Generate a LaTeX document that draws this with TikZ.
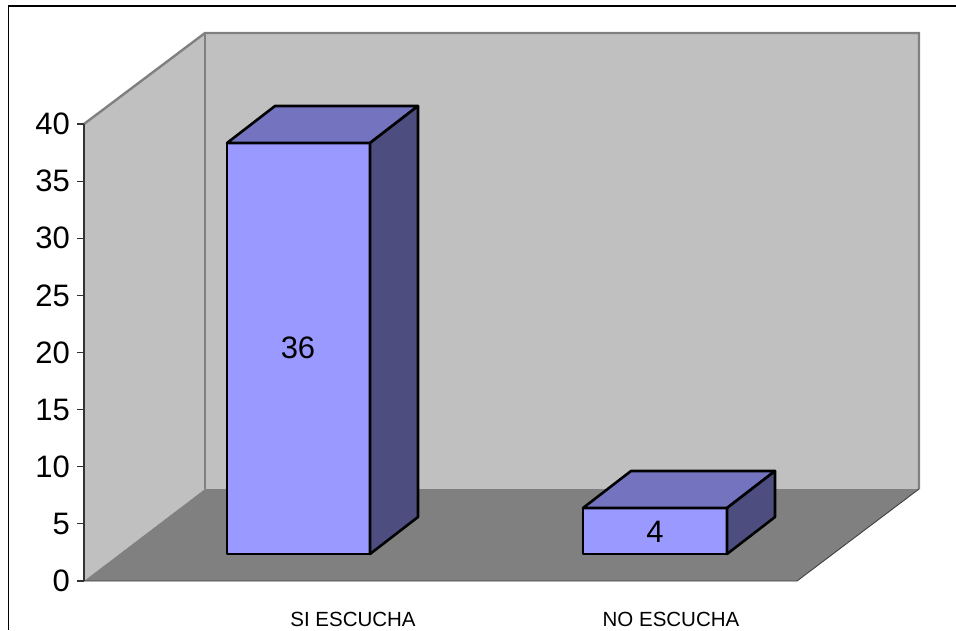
\documentclass[tikz,border=0pt]{standalone}
\usepackage{fontspec}
\setmainfont{Liberation Sans}
\definecolor{wallc}{RGB}{192,192,192}
\definecolor{floorc}{RGB}{128,128,128}
\definecolor{edgec}{RGB}{128,128,128}
\definecolor{barfront}{RGB}{153,153,255}
\definecolor{bartop}{RGB}{115,115,191}
\definecolor{barside}{RGB}{77,77,128}
\begin{document}
\begin{tikzpicture}[x=1pt,y=-1pt,
  wall/.style={fill=wallc},
  walledge/.style={draw=edgec,line width=2.4pt},
  bar/.style={draw=black,line width=2.6pt,line join=round},
  ticklab/.style={anchor=east,inner sep=0pt,font=\fontsize{31}{34}\selectfont},
  datalab/.style={inner sep=0pt,font=\fontsize{31}{34}\selectfont},
  catlab/.style={inner sep=0pt,font=\fontsize{20.5}{24}\selectfont}]
\useasboundingbox (0,0) rectangle (956,630);
% frame
\draw[line width=1.8pt] (8.5,630) -- (8.5,6) -- (956,6);
% walls
\coordinate (lwb) at (84,581);
\coordinate (lwt) at (84,124);
\coordinate (bwtl) at (205,33);
\coordinate (bwtr) at (919,33);
\coordinate (bwbl) at (205,489);
\coordinate (bwbr) at (919,489);
\coordinate (ffr) at (797,581);
\fill[wall] (lwb) -- (lwt) -- (bwtl) -- (bwbl) -- cycle;
\fill[wall] (bwtl) rectangle (bwbr);
\fill[floorc] (lwb) -- (bwbl) -- (bwbr) -- (ffr) -- cycle;
\draw[walledge] (lwt) -- (bwtl) -- (bwtr) -- (bwbr);
\draw[walledge] (bwtl) -- (bwbl);
\draw[line width=0.9pt,draw=black!75] (lwb) -- (ffr) -- (bwbr);
% axis
\draw[line width=1.2pt,draw=black!80] (lwt) -- (lwb);
\foreach \v in {0,5,...,40}{
  \coordinate (t\v) at (84,{581-\v*11.425});
  \draw[line width=1.2pt,draw=black!80] (t\v) -- ++(-7,0);
  \node[ticklab] (l\v) at ([xshift=-14pt]t\v) {\v};
}
% bar 1
\coordinate (a1) at (227,143);
\coordinate (b1) at (370,143);
\coordinate (c1) at (370,554);
\coordinate (d1) at (227,554);
\fill[barfront] (a1) rectangle (c1);
\filldraw[bar,fill=bartop] (a1) -- (b1) -- ++(48,-37) -- ++(-143,0) -- cycle;
\filldraw[bar,fill=barside] (b1) -- ++(48,-37) -- ++(0,411) -- (c1) -- cycle;
\draw[bar] (a1) rectangle (c1);
\node[datalab] (v1) at (298,348) {36};
% bar 2
\coordinate (a2) at (583,508);
\coordinate (b2) at (727,508);
\coordinate (c2) at (727,554);
\coordinate (d2) at (583,554);
\fill[barfront] (a2) rectangle (c2);
\filldraw[bar,fill=bartop] (a2) -- (b2) -- ++(48,-37) -- ++(-144,0) -- cycle;
\filldraw[bar,fill=barside] (b2) -- ++(48,-37) -- ++(0,46) -- (c2) -- cycle;
\draw[bar] (a2) rectangle (c2);
\node[datalab] (v2) at (655,532) {4};
% categories
\node[catlab] (cat1) at (353,619) {SI ESCUCHA};
\node[catlab] (cat2) at (671,619) {NO ESCUCHA};
\end{tikzpicture}
\end{document}
